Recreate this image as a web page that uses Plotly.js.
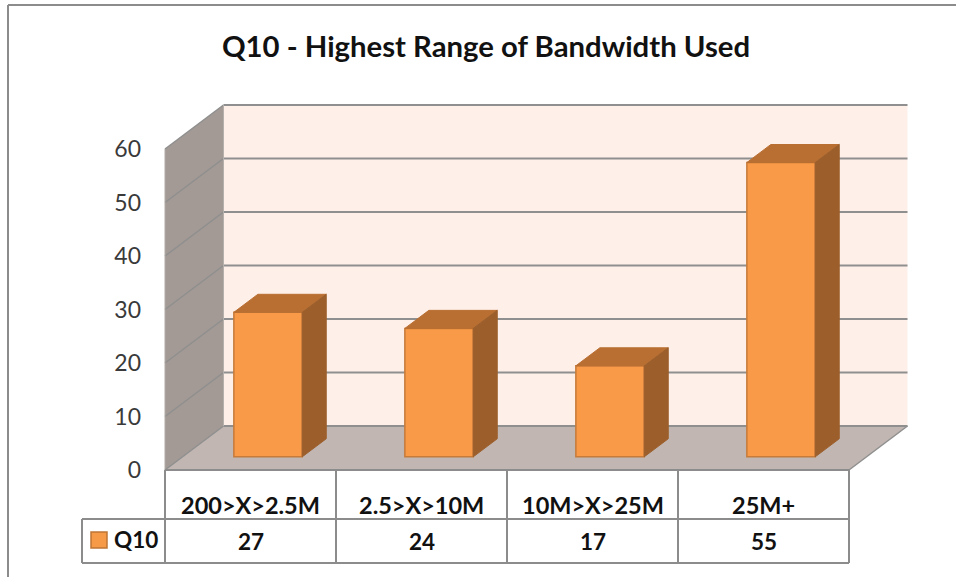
<!DOCTYPE html>
<html>
<head>
<meta charset="utf-8">
<script src="https://cdn.plot.ly/plotly-3.0.1.min.js"></script>
<style>html,body{margin:0;padding:0;background:#fff;overflow:hidden}#c{width:956px;height:577px}</style>
</head>
<body>
<div id="c"></div>
<script>
const categories = ["200>X>2.5M", "2.5>X>10M", "10M>X>25M", "25M+"];
const values = [27, 24, 17, 55];
const seriesName = "Q10";
const yTicks = [0, 10, 20, 30, 40, 50, 60];
const titleText = "Q10 - Highest Range of Bandwidth Used";

// Chart scale: one category = 171px, one value unit = 5.35px.
const W = 956, H = 577, X0 = 165, Y0 = 470, CAT = 171, UNIT = 5.35;
const xOf = px => (px - X0) / CAT;
const yOf = py => (Y0 - py) / UNIT;
// Oblique projection of depth (0 front .. 1 back).
const DX = 58.5 / CAT, DY = 44 / UNIT;
const BAR_W = 0.4, D_FRONT = 0.3, D_BACK = 0.71;
const proj = (x, v, d) => [x + d * DX, v + d * DY];
const path = pts => pts.map((p, i) => (i ? "L" : "M") + p[0] + "," + p[1]).join(" ") + " Z";
const N = categories.length;
const GRID = "#8f8f8f", BORDER = "#8c8c8c", TEXT = "#111111";
const FONT = "Lato, 'Open Sans', sans-serif";

const poly = (pts, fill) => ({
  type: "path", xref: "x", yref: "y", layer: "below", path: path(pts),
  fillcolor: fill, line: { color: fill, width: 0 }
});
const seg = (a, b, color, w) => ({
  type: "line", xref: "x", yref: "y", layer: "below",
  x0: a[0], y0: a[1], x1: b[0], y1: b[1], line: { color: color, width: w }
});

const yTop = yTicks[yTicks.length - 1];
const shapes = [];
// Back wall, left wall, floor
shapes.push(poly([proj(N, 0, 1), proj(0, 0, 1), proj(0, yTop, 1), proj(N, yTop, 1)], "#feefe8"));
shapes.push(poly([proj(0, 0, 0), proj(0, 0, 1), proj(0, yTop, 1), proj(0, yTop, 0)], "#a39a95"));
shapes.push(poly([proj(0, 0, 0), proj(N, 0, 0), proj(N, 0, 1), proj(0, 0, 1)], "#c1b6b1"));
// Gridlines from the value axis
yTicks.forEach(v => {
  shapes.push(seg(proj(0, v, 0), proj(0, v, 1), GRID, 1.5));
  shapes.push(seg(proj(0, v, 1), proj(N, v, 1), GRID, 2));
});
shapes.push(seg(proj(0, 0, 0), proj(0, yTop, 0), "#b0aaa6", 1));
shapes.push(seg(proj(0, 0, 1), proj(0, yTop, 1), "#b5b0ac", 1));
shapes.push(seg(proj(N, 0, 0), proj(N, 0, 1), GRID, 1.5));

// Data table lines
const T1 = yOf(519), T2 = yOf(563), TL = xOf(82);
const tLine = (x0, y0, x1, y1) => seg([x0, y0], [x1, y1], BORDER, 2);
shapes.push(tLine(0, 0, N, 0));
shapes.push(tLine(TL, T1, N, T1));
shapes.push(tLine(TL, T2, N, T2));
shapes.push(tLine(TL, T1, TL, T2));
for (let i = 0; i <= N; i++) shapes.push(tLine(i, 0, i, T2));
// Outer frame
shapes.push(seg([xOf(8), yOf(5)], [xOf(956), yOf(5)], BORDER, 2));
shapes.push(seg([xOf(8), yOf(5)], [xOf(8), yOf(577)], BORDER, 2));
// Legend key in the table
shapes.push({
  type: "rect", xref: "x", yref: "y", layer: "below",
  x0: xOf(91), x1: xOf(107), y0: yOf(548), y1: yOf(532),
  fillcolor: "#f79a48", line: { color: "#bf7534", width: 1.5 }
});

const traces = [];
// Front faces
traces.push({
  type: "bar", name: seriesName,
  x: categories.map((c, i) => i + 0.5 + D_FRONT * DX),
  y: values, base: values.map(() => D_FRONT * DY), width: BAR_W,
  marker: { color: "#f89a47", line: { color: "#c67b3a", width: 1.5 } },
  showlegend: false, hoverinfo: "y"
});
// Top and side faces
values.forEach((v, i) => {
  const l = i + 0.5 - BAR_W / 2, r = i + 0.5 + BAR_W / 2;
  const top = [proj(l, v, D_FRONT), proj(r, v, D_FRONT), proj(r, v, D_BACK), proj(l, v, D_BACK), proj(l, v, D_FRONT)];
  const side = [proj(r, 0, D_FRONT), proj(r, v, D_FRONT), proj(r, v, D_BACK), proj(r, 0, D_BACK), proj(r, 0, D_FRONT)];
  const face = (pts, fill) => traces.push({
    type: "scatter", mode: "lines", fill: "toself", fillcolor: fill,
    x: pts.map(p => p[0]), y: pts.map(p => p[1]),
    line: { color: fill, width: 1 }, showlegend: false, hoverinfo: "skip"
  });
  face(top, "#b96f32");
  face(side, "#9c5f2c");
});

const ann = (text, x, y, size, anchor) => ({
  text: "<b>" + text + "</b>", x, y, xref: "x", yref: "y", showarrow: false,
  xanchor: anchor || "center", yanchor: "middle",
  font: { family: FONT, size, color: TEXT }
});
const annotations = [];
categories.forEach((c, i) => annotations.push(ann(c, i + 0.5, yOf(505), 23.5)));
values.forEach((v, i) => annotations.push(ann(String(v), i + 0.5, yOf(541), 22.5)));
annotations.push(ann(seriesName, xOf(112), yOf(539), 22.5, "left"));

Plotly.newPlot("c", traces, {
  width: W, height: H,
  margin: { l: 0, r: 0, t: 0, b: 0 },
  paper_bgcolor: "#ffffff", plot_bgcolor: "rgba(0,0,0,0)",
  showlegend: false,
  title: {
    text: "<b>" + titleText + "</b>", x: 486 / W, xanchor: "center", y: 1 - 47 / H, yanchor: "middle",
    font: { family: FONT, size: 29.3, color: "#111111" }
  },
  xaxis: {
    range: [xOf(0), xOf(W)], showgrid: false, zeroline: false, showline: false,
    showticklabels: false, ticks: "", fixedrange: true
  },
  yaxis: {
    range: [yOf(H), yOf(0)], anchor: "free", position: X0 / W, side: "left",
    tickmode: "array", tickvals: yTicks, ticktext: yTicks.map(String),
    showgrid: false, zeroline: false, showline: false, ticks: "",
    ticklabelstandoff: 24, fixedrange: true,
    tickfont: { family: FONT, size: 23, color: "#3a3a3a" }
  },
  shapes, annotations
}, { displayModeBar: false, staticPlot: true });
</script>
</body>
</html>
